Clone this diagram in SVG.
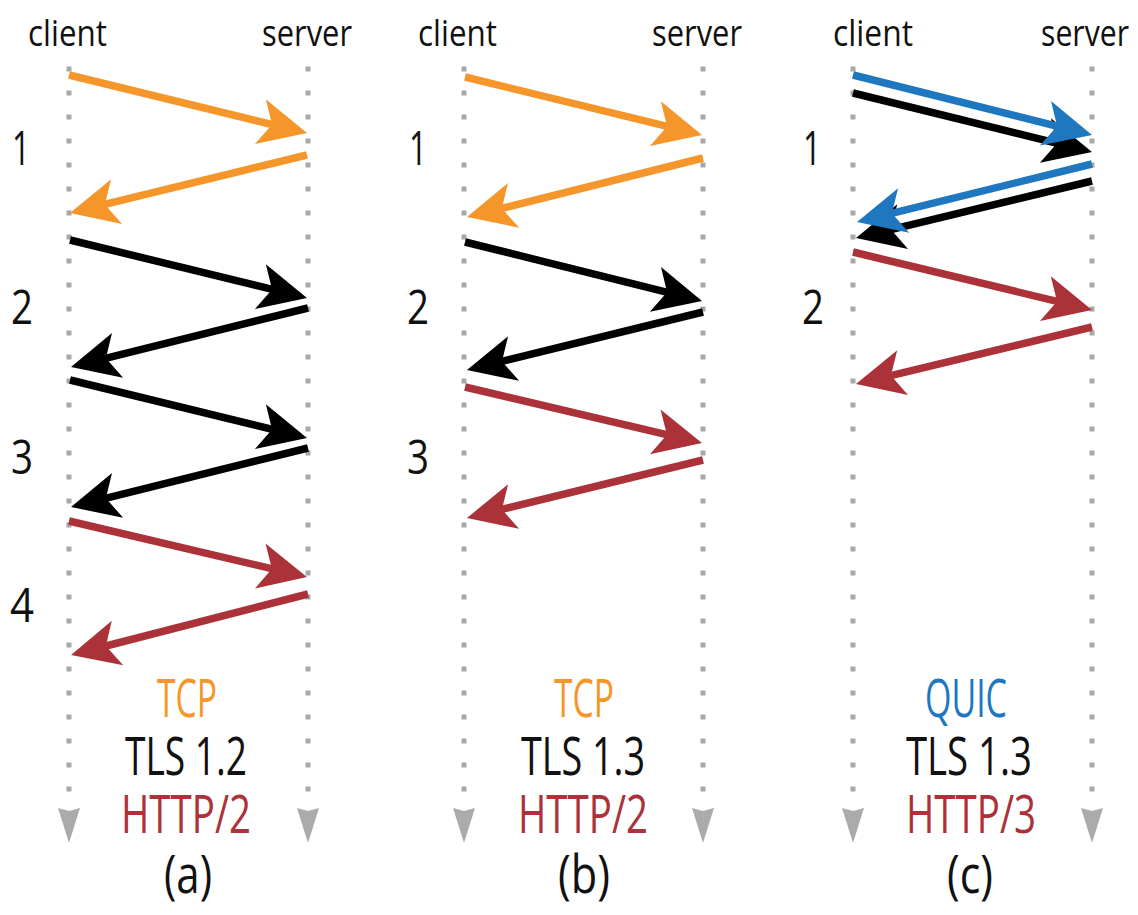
<svg xmlns="http://www.w3.org/2000/svg" width="1138" height="915" viewBox="0 0 1138 915">
  <style>
    .t { font-family: "Open Sans", "Liberation Sans", sans-serif; }
    .hdr { font-size: 37px; fill: #111; }
    .num { font-size: 47px; fill: #111; text-anchor: middle; }
    .lbl { font-size: 53px; text-anchor: middle; }
    .org { fill: #F5962B; }
    .blk { fill: #111; }
    .red { fill: #AC3239; }
    .blu { fill: #1F77C0; }
    .life { stroke: #A8A8A8; stroke-width: 5; stroke-dasharray: 5 19; fill: none; }
    .tri { fill: #ABABAB; }
    .a { fill: none; stroke-width: 7.5; stroke-linecap: butt; }
    .ao { stroke: #F5962B; marker-end: url(#mo); }
    .ab { stroke: #000; marker-end: url(#mb); }
    .ar { stroke: #AC3239; marker-end: url(#mr); }
    .au { stroke: #1F77C0; marker-end: url(#mu); }
  </style>
  <defs>
    <marker id="mo" viewBox="-55 -28 56 56" markerUnits="userSpaceOnUse" markerWidth="56" markerHeight="56" refX="-20" refY="0" orient="auto"><path d="M0,0 L-48,-23 L-36,0 L-48,23 Z" fill="#F5962B"/></marker>
    <marker id="mb" viewBox="-55 -28 56 56" markerUnits="userSpaceOnUse" markerWidth="56" markerHeight="56" refX="-20" refY="0" orient="auto"><path d="M0,0 L-48,-23 L-36,0 L-48,23 Z" fill="#000"/></marker>
    <marker id="mr" viewBox="-55 -28 56 56" markerUnits="userSpaceOnUse" markerWidth="56" markerHeight="56" refX="-20" refY="0" orient="auto"><path d="M0,0 L-48,-23 L-36,0 L-48,23 Z" fill="#AC3239"/></marker>
    <marker id="mu" viewBox="-55 -28 56 56" markerUnits="userSpaceOnUse" markerWidth="56" markerHeight="56" refX="-20" refY="0" orient="auto"><path d="M0,0 L-48,-23 L-36,0 L-48,23 Z" fill="#1F77C0"/></marker>
  </defs>
  <rect width="1138" height="915" fill="#fff"/>

  <!-- Panel (a) -->
  <g id="panel-a">
    <g id="a-client">
      <text class="t hdr" x="28" y="46" textLength="79" lengthAdjust="spacingAndGlyphs">client</text>
      <line class="life" x1="69" y1="66.5" x2="69" y2="792"/>
      <path class="tri" d="M58,808 L69,811 L80,808 L69,843 Z"/>
    </g>
    <g id="a-server">
      <text class="t hdr" x="262" y="46" textLength="90" lengthAdjust="spacingAndGlyphs">server</text>
      <line class="life" x1="308" y1="66.5" x2="308" y2="792"/>
      <path class="tri" d="M297,808 L308,811 L319,808 L308,843 Z"/>
    </g>
    <g id="a-steps">
      <text class="t num" x="21" y="165" textLength="18" lengthAdjust="spacingAndGlyphs">1</text>
      <text class="t num" x="22" y="324" textLength="22" lengthAdjust="spacingAndGlyphs">2</text>
      <text class="t num" x="22" y="474" textLength="22" lengthAdjust="spacingAndGlyphs">3</text>
      <text class="t num" x="22" y="622" textLength="24" lengthAdjust="spacingAndGlyphs">4</text>
    </g>
    <g id="a-legend">
      <text class="t lbl org" x="187" y="717" textLength="60" lengthAdjust="spacingAndGlyphs">TCP</text>
      <text class="t lbl blk" x="186" y="775" textLength="122" lengthAdjust="spacingAndGlyphs">TLS 1.2</text>
      <text class="t lbl red" x="186" y="833" textLength="130" lengthAdjust="spacingAndGlyphs">HTTP/2</text>
      <text class="t lbl blk" x="188" y="893" textLength="48" lengthAdjust="spacingAndGlyphs">(a)</text>
    </g>
  </g>

  <!-- Panel (b) -->
  <g id="panel-b">
    <g id="b-client">
      <text class="t hdr" x="418" y="46" textLength="79" lengthAdjust="spacingAndGlyphs">client</text>
      <line class="life" x1="464" y1="66.5" x2="464" y2="792"/>
      <path class="tri" d="M453,808 L464,811 L475,808 L464,843 Z"/>
    </g>
    <g id="b-server">
      <text class="t hdr" x="652" y="46" textLength="90" lengthAdjust="spacingAndGlyphs">server</text>
      <line class="life" x1="703" y1="66.5" x2="703" y2="792"/>
      <path class="tri" d="M692,808 L703,811 L714,808 L703,843 Z"/>
    </g>
    <g id="b-steps">
      <text class="t num" x="418" y="165" textLength="18" lengthAdjust="spacingAndGlyphs">1</text>
      <text class="t num" x="418" y="324" textLength="22" lengthAdjust="spacingAndGlyphs">2</text>
      <text class="t num" x="418" y="474" textLength="22" lengthAdjust="spacingAndGlyphs">3</text>
    </g>
    <g id="b-legend">
      <text class="t lbl org" x="584" y="717" textLength="60" lengthAdjust="spacingAndGlyphs">TCP</text>
      <text class="t lbl blk" x="583" y="775" textLength="124" lengthAdjust="spacingAndGlyphs">TLS 1.3</text>
      <text class="t lbl red" x="583" y="833" textLength="130" lengthAdjust="spacingAndGlyphs">HTTP/2</text>
      <text class="t lbl blk" x="584" y="893" textLength="52" lengthAdjust="spacingAndGlyphs">(b)</text>
    </g>
  </g>

  <!-- Panel (c) -->
  <g id="panel-c">
    <g id="c-client">
      <text class="t hdr" x="833" y="46" textLength="80" lengthAdjust="spacingAndGlyphs">client</text>
      <line class="life" x1="853" y1="66.5" x2="853" y2="792"/>
      <path class="tri" d="M842,808 L853,811 L864,808 L853,843 Z"/>
    </g>
    <g id="c-server">
      <text class="t hdr" x="1041" y="46" textLength="88" lengthAdjust="spacingAndGlyphs">server</text>
      <line class="life" x1="1092" y1="66.5" x2="1092" y2="792"/>
      <path class="tri" d="M1081,808 L1092,811 L1103,808 L1092,843 Z"/>
    </g>
    <g id="c-steps">
      <text class="t num" x="812" y="165" textLength="18" lengthAdjust="spacingAndGlyphs">1</text>
      <text class="t num" x="813" y="324" textLength="22" lengthAdjust="spacingAndGlyphs">2</text>
    </g>
    <g id="c-legend">
      <text class="t lbl blu" x="966" y="717" textLength="82" lengthAdjust="spacingAndGlyphs">QUIC</text>
      <text class="t lbl blk" x="969" y="775" textLength="126" lengthAdjust="spacingAndGlyphs">TLS 1.3</text>
      <text class="t lbl red" x="971" y="833" textLength="130" lengthAdjust="spacingAndGlyphs">HTTP/3</text>
      <text class="t lbl blk" x="970" y="893" textLength="46" lengthAdjust="spacingAndGlyphs">(c)</text>
    </g>
  </g>

  <!-- Connectors -->
  <g id="connectors">
    <line class="a ao" x1="69" y1="75" x2="287.6" y2="128.3"/>
    <line class="a ao" x1="307" y1="155" x2="89.4" y2="208.2"/>
    <line class="a ab" x1="70" y1="240" x2="287.6" y2="293.2"/>
    <line class="a ab" x1="308" y1="308" x2="90.4" y2="362.2"/>
    <line class="a ab" x1="70" y1="380" x2="287.6" y2="433.2"/>
    <line class="a ab" x1="308" y1="448" x2="90.4" y2="502.2"/>
    <line class="a ar" x1="69" y1="521" x2="287.5" y2="572.4"/>
    <line class="a ar" x1="308" y1="594" x2="90.4" y2="650.0"/>

    <line class="a ao" x1="465" y1="77" x2="682.6" y2="130.2"/>
    <line class="a ao" x1="703" y1="158" x2="486.4" y2="212.2"/>
    <line class="a ab" x1="465" y1="242" x2="682.6" y2="296.2"/>
    <line class="a ab" x1="703" y1="312" x2="486.4" y2="365.2"/>
    <line class="a ar" x1="465" y1="387" x2="682.5" y2="438.4"/>
    <line class="a ar" x1="703" y1="460" x2="486.4" y2="513.2"/>

    <line class="a ab" x1="853" y1="93" x2="1072.6" y2="147.2"/>
    <line class="a ab" x1="1092" y1="181" x2="875.4" y2="233.3"/>
    <line class="a au" x1="853" y1="75" x2="1072.6" y2="130.1"/>
    <line class="a au" x1="1092" y1="164" x2="876.4" y2="217.2"/>
    <line class="a ar" x1="853" y1="252" x2="1072.6" y2="305.2"/>
    <line class="a ar" x1="1092" y1="327" x2="875.4" y2="379.3"/>
  </g>
</svg>
